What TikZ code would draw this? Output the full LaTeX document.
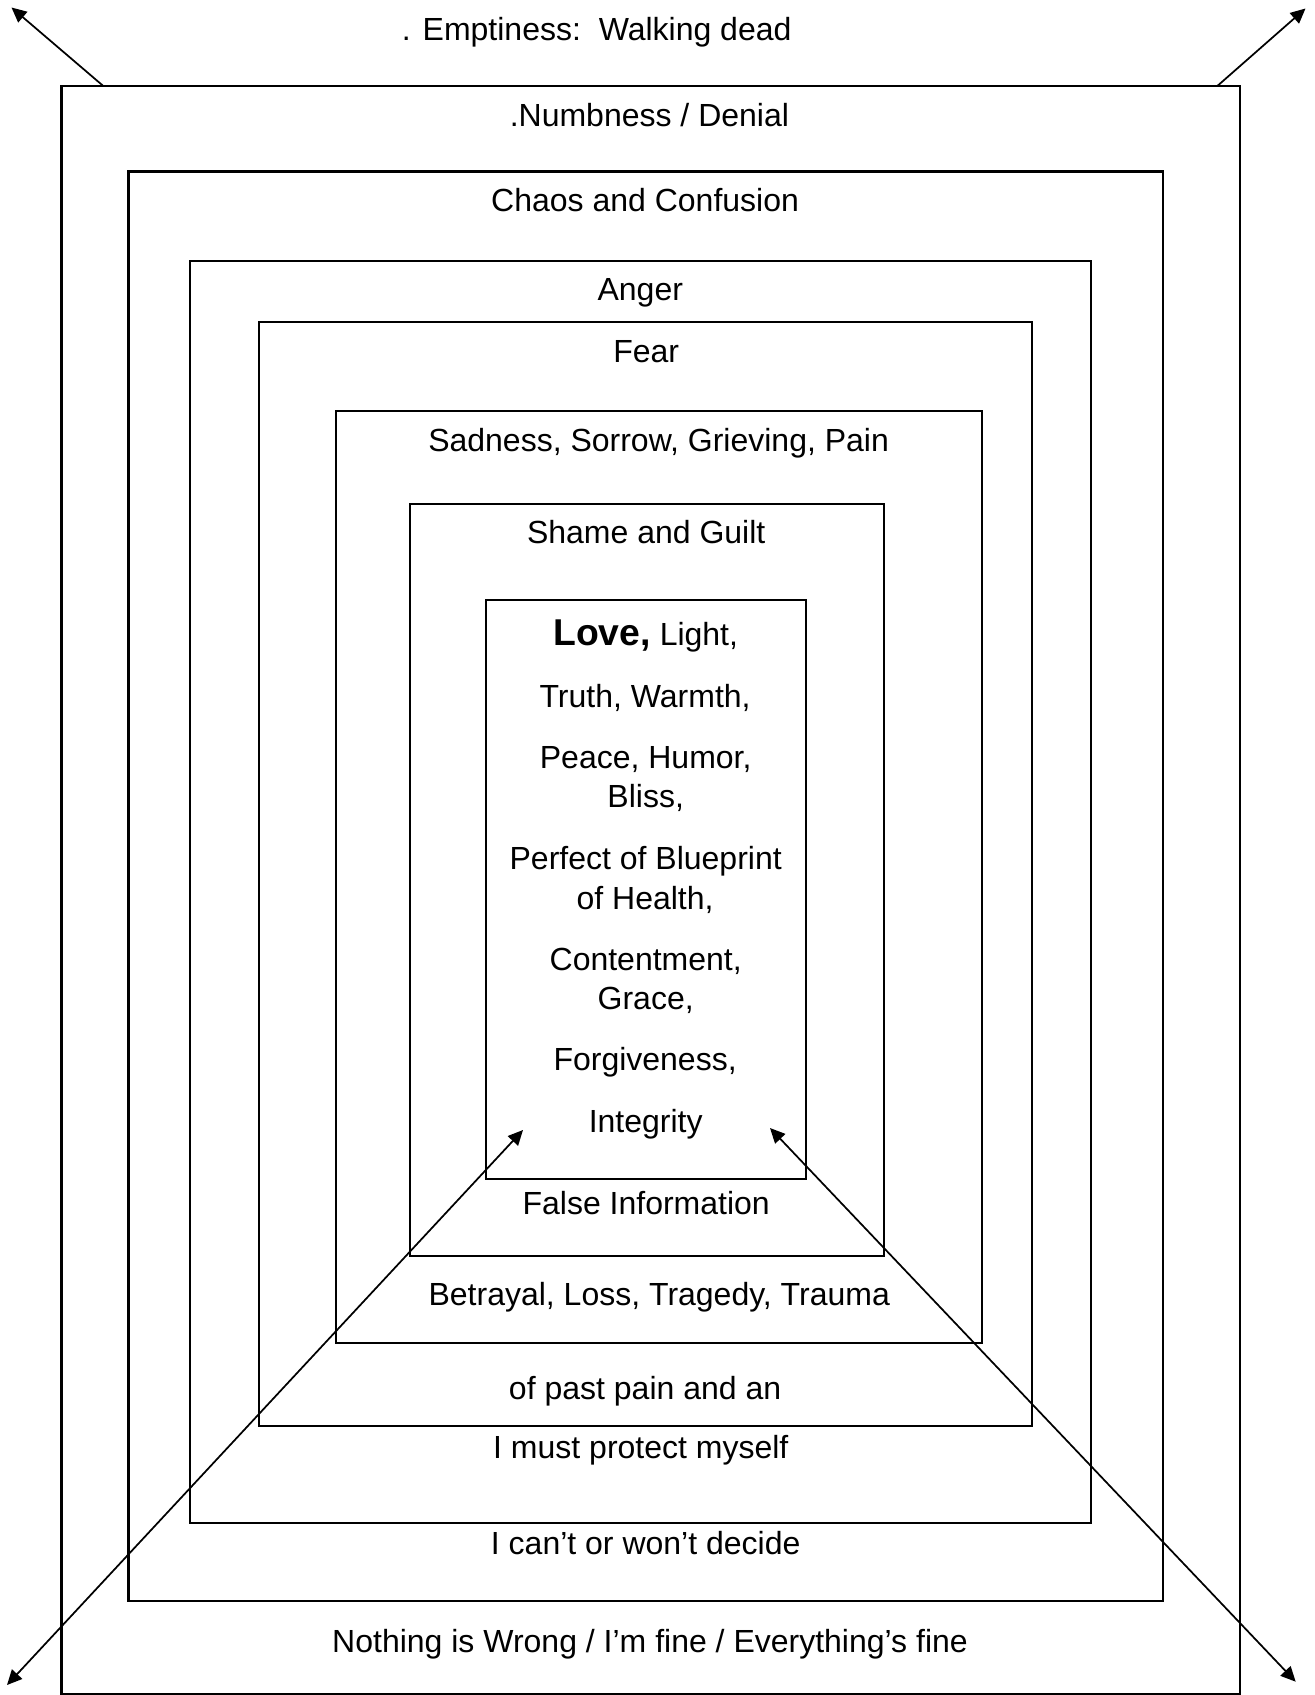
\documentclass[tikz,border=0pt]{standalone}
\usepackage{fontspec}
\setmainfont{Liberation Sans}
\usetikzlibrary{arrows.meta}
\tikzset{
  layer/.style={draw=black, line width=0.8pt},
  lbl/.style={anchor=base, inner sep=0pt, font=\fontsize{12}{14}\selectfont},
  tip/.tip={Triangle[length=5.6pt,width=5.2pt]},
  arr/.style={line width=0.65pt, -tip},
  darr/.style={line width=0.65pt, tip-tip}
}
\begin{document}
\begin{tikzpicture}[x=0.375pt,y=-0.375pt]
\useasboundingbox[fill=white] (0,0) rectangle (1314,1695);
% nested layers
\draw[layer] (61.5,86) rectangle (1240,1694);
\draw[layer] (128.5,171.5) rectangle (1162.7,1600.7);
\draw[layer] (190,260.7) rectangle (1090.7,1523.3);
\draw[layer] (259,322) rectangle (1031.7,1426);
\draw[layer] (336,411) rectangle (982.3,1342.7);
\draw[layer] (410,504) rectangle (884,1256);
\draw[layer] (485.7,600) rectangle (805.7,1179.3);
% labels
\node[lbl] (t1) at (596.7,40) {. Emptiness:\ \ Walking dead};
\node[lbl] (t2) at (649.4,126.4) {.Numbness / Denial};
\node[lbl] (t3) at (645.1,211.8) {Chaos and Confusion};
\node[lbl] (t4) at (640.3,300.4) {Anger};
\node[lbl] (t5) at (646.2,362) {Fear};
\node[lbl] (t6) at (658.6,451.7) {Sadness, Sorrow, Grieving, Pain};
\node[lbl] (t7) at (646.2,543.5) {Shame and Guilt};
\node[lbl] (c1) at (645.7,645.1) {{\fontsize{14}{16}\selectfont\bfseries Love,} Light,};
\node[lbl] (c2) at (645.1,707.8) {Truth, Warmth,};
\node[lbl] (c3) at (645.7,768.3) {Peace, Humor,};
\node[lbl] (c4) at (645.7,807.2) {Bliss,};
\node[lbl] (c5) at (645.7,869.9) {Perfect of Blueprint};
\node[lbl] (c6) at (645.1,909.9) {of Health,};
\node[lbl] (c7) at (645.7,970.4) {Contentment,};
\node[lbl] (c8) at (645.7,1009.3) {Grace,};
\node[lbl] (c9) at (645.1,1070.9) {Forgiveness,};
\node[lbl] (c10) at (645.7,1132.5) {Integrity};
\node[lbl] (b7) at (646.2,1214.2) {False Information};
\node[lbl] (b6) at (659.2,1305.2) {Betrayal, Loss, Tragedy, Trauma};
\node[lbl] (b5) at (645.1,1399.4) {of past pain and an};
\node[lbl] (b4) at (640.8,1458.8) {I must protect myself};
\node[lbl] (b3) at (645.7,1554) {I can’t or won’t decide};
\node[lbl] (b2) at (650,1652) {Nothing is Wrong / I’m fine / Everything’s fine};
% arrow end points
\coordinate (tlA) at (103.3,86);
\coordinate (tlB) at (11.5,7.5);
\coordinate (trA) at (1217.3,86);
\coordinate (trB) at (1305.5,8.5);
\coordinate (ilA) at (523,1130);
\coordinate (ilB) at (7,1685);
\coordinate (irA) at (770,1128);
\coordinate (irB) at (1295.7,1681.7);
\draw[arr] (tlA) -- (tlB);
\draw[arr] (trA) -- (trB);
\draw[darr] (ilA) -- (ilB);
\draw[darr] (irA) -- (irB);
\end{tikzpicture}
\end{document}
